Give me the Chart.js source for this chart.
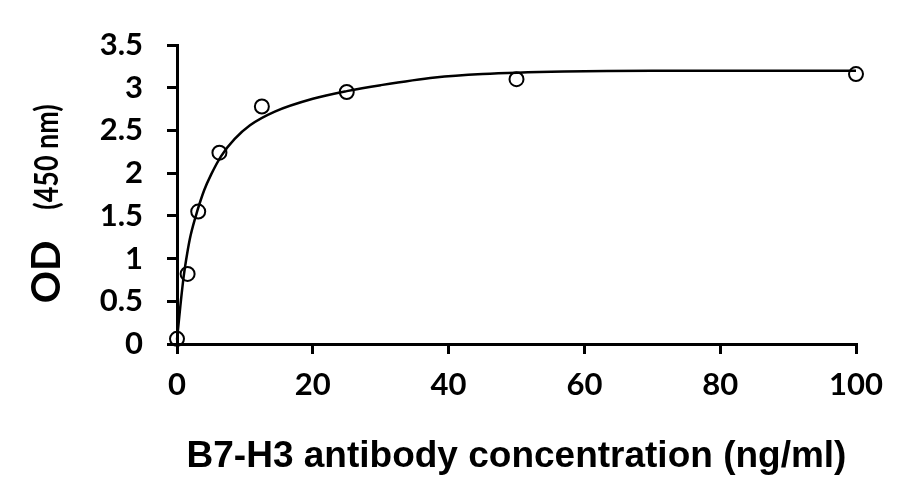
<!DOCTYPE html>
<html lang="en">
<head>
  <meta charset="UTF-8">
  <title>B7-H3 antibody ELISA</title>
  <script src="https://cdn.jsdelivr.net/npm/chart.js"></script>
  <style>
    body {
      margin: 0;
      background-color: #FFFFFF;
    }
    .chart-container {
      width: 921px;
      height: 504px;
    }
  </style>
</head>
<body>
  <div class="chart-container">
    <canvas id="odChart"></canvas>
  </div>

  <script>
    // Measured points (ng/ml -> OD 450 nm)
    const concentrations = [0, 1.5625, 3.125, 6.25, 12.5, 25, 50, 100];
    const odValues = [0.06, 0.82, 1.55, 2.24, 2.78, 2.95, 3.10, 3.16];

    // Fitted curve
    const curveX = [0, 0.5, 1, 1.5, 2, 3, 4, 5, 6.5, 8.5, 10.75, 14.4, 20, 25, 30, 38, 45, 57, 70, 100];
    const curveY = [0.05, 0.45, 0.8, 1.06, 1.27, 1.56, 1.80, 1.98, 2.2, 2.4, 2.56, 2.72, 2.87, 2.96, 3.03, 3.12, 3.16, 3.19, 3.2, 3.2];

    const yTitleMain = "OD";
    const yTitleUnit = "(450 nm)";
    const xTitle = "B7-H3 antibody concentration (ng/ml)";

    // y title has two font sizes, so draw it by hand
    const yTitlePlugin = {
      id: "yTitle",
      afterDraw(chart) {
        const ctx = chart.ctx;
        ctx.save();
        ctx.rotate(-Math.PI / 2);
        ctx.fillStyle = "#000";
        ctx.textAlign = "center";
        ctx.textBaseline = "alphabetic";
        ctx.font = "bold 40px Lato";
        ctx.fillText(yTitleMain, -272, 60);
        // unit is set in a narrow face in the original: squeeze it a bit
        ctx.translate(-157, 58);
        ctx.scale(0.84, 1);
        ctx.font = "bold 32px Lato";
        ctx.fillText(yTitleUnit, 0, 0);
        ctx.restore();
      }
    };

    const ctx = document.getElementById("odChart").getContext("2d");
    new Chart(ctx, {
      type: "scatter",
      data: {
        datasets: [
          {
            type: "line",
            label: "fit",
            data: curveX.map((x, i) => ({ x: x, y: curveY[i] })),
            borderColor: "#000",
            borderWidth: 2.5,
            pointRadius: 0,
            fill: false,
            clip: false,
            cubicInterpolationMode: "monotone",
          },
          {
            label: "OD",
            data: concentrations.map((x, i) => ({ x: x, y: odValues[i] })),
            pointRadius: 7,
            pointBorderWidth: 2,
            pointBorderColor: "#000",
            pointBackgroundColor: "transparent",
            showLine: false,
            clip: false,
          }
        ]
      },
      options: {
        responsive: true,
        maintainAspectRatio: false,
        animation: false,
        layout: {
          padding: { top: 45, right: 65, left: 0, bottom: 0 }
        },
        plugins: {
          legend: { display: false },
          tooltip: { enabled: false }
        },
        scales: {
          x: {
            type: "linear",
            min: 0,
            max: 100,
            ticks: {
              stepSize: 20,
              color: "#000",
              padding: 12,
              font: { family: "Lato", size: 31, weight: "bold" }
            },
            grid: {
              drawOnChartArea: false,
              drawTicks: true,
              tickLength: 10,
              color: "#000",
              lineWidth: 3
            },
            border: { display: true, color: "#000", width: 3 },
            title: {
              display: true,
              text: xTitle,
              color: "#000",
              padding: { top: 4, bottom: 25 },
              font: { family: "Liberation Sans", size: 37, weight: "bold" }
            },
            afterFit(scale) { scale.height = 160; }
          },
          y: {
            min: 0,
            max: 3.5,
            ticks: {
              stepSize: 0.5,
              color: "#000",
              padding: 24,
              font: { family: "Lato", size: 31, weight: "bold" },
              callback: (v) => String(Number(v.toFixed(1)))
            },
            grid: {
              drawOnChartArea: false,
              drawTicks: true,
              tickLength: 10,
              color: "#000",
              lineWidth: 3
            },
            border: { display: true, color: "#000", width: 3 },
            afterFit(scale) { scale.width = 177; }
          }
        }
      },
      plugins: [yTitlePlugin]
    });
  </script>
</body>
</html>
